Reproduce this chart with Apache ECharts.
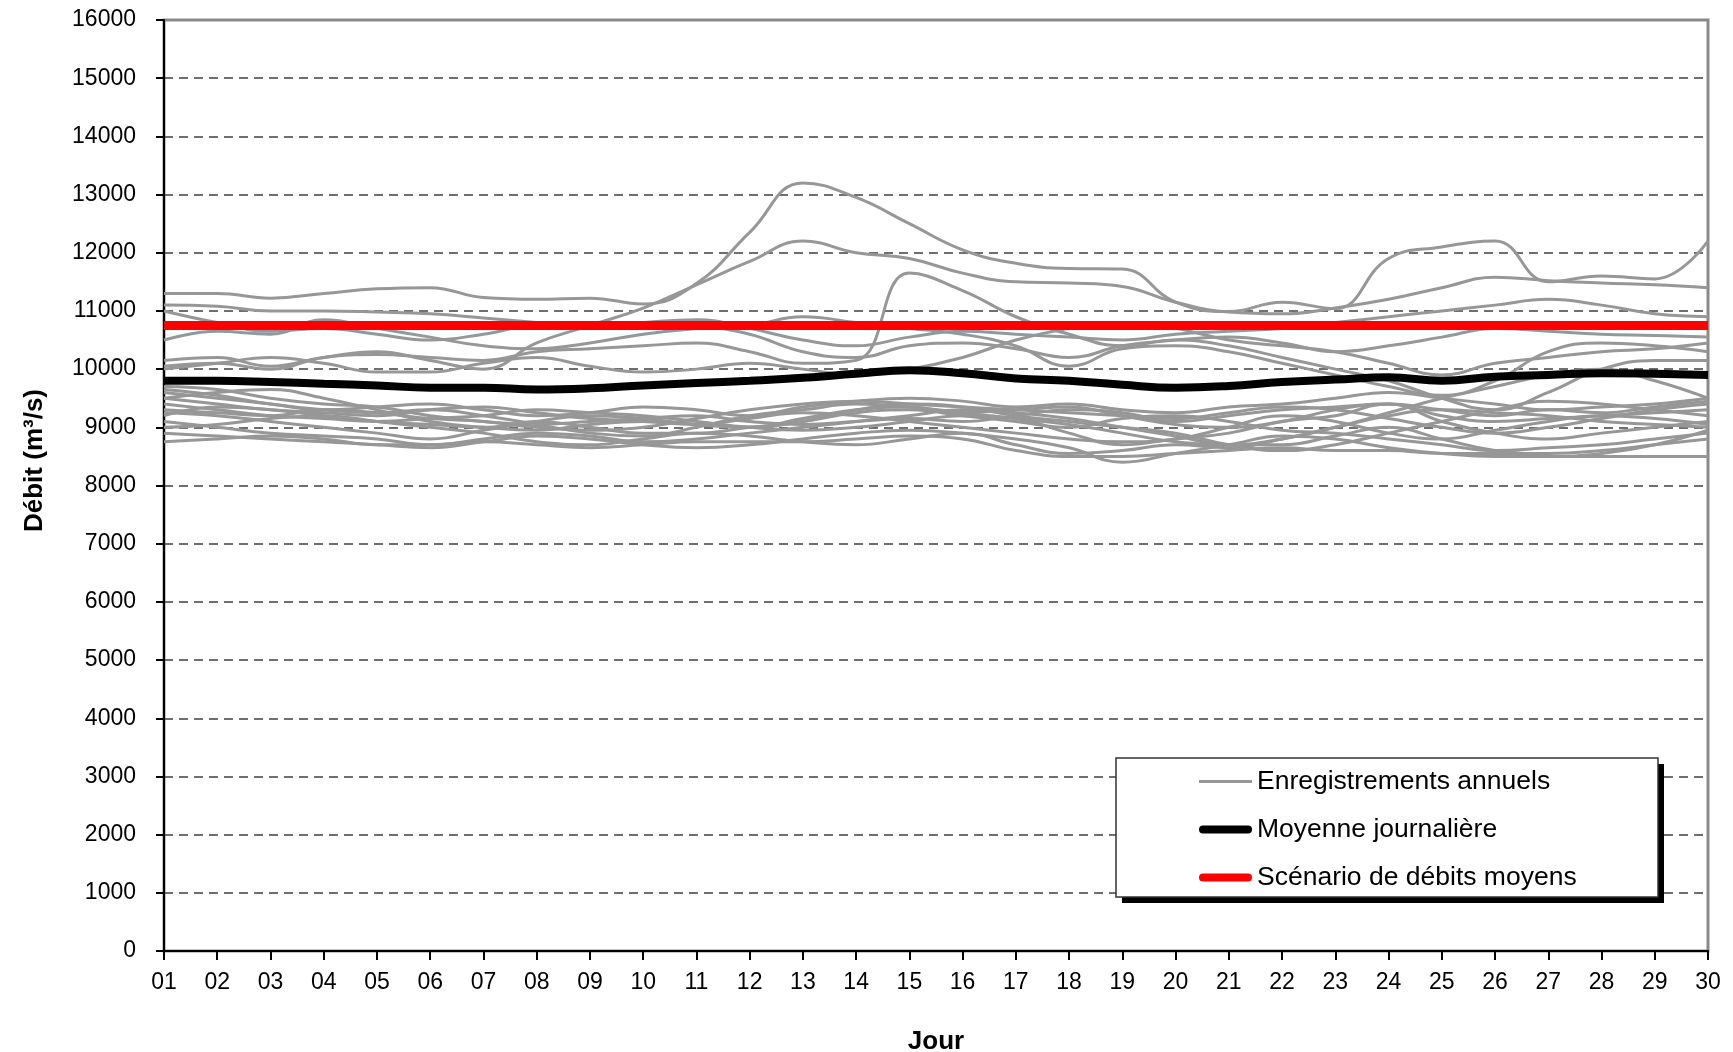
<!DOCTYPE html>
<html>
<head>
<meta charset="utf-8">
<script src="https://cdn.jsdelivr.net/npm/echarts@6/dist/echarts.min.js"></script>
<style>
  html, body { margin: 0; padding: 0; background: #fff; }
  #chart { width: 1733px; height: 1052px; }
</style>
</head>
<body>
<div id="chart"></div>
<script>
// Jours du mois
const days = ['01','02','03','04','05','06','07','08','09','10','11','12','13','14','15',
              '16','17','18','19','20','21','22','23','24','25','26','27','28','29','30'];

// Enregistrements annuels (débit journalier, m3/s)
const rec01 = [11300,11300,11220,11300,11380,11400,11230,11200,11220,11120,11470,12350,13200,12950,12500,12050,11820,11730,11720,11150,10990,11150,11040,11900,12100,12200,11500,11600,11550,12200];
const rec02 = [10150,10200,10050,10200,10300,10150,10000,10450,10750,11050,11450,11850,12200,12000,11900,11650,11500,11480,11420,11150,10980,10950,11050,11200,11400,11580,11520,11480,11450,11400];
const rec03 = [11100,11080,11000,11000,10980,10950,10880,10800,10720,10800,10850,10700,10500,10400,10550,10650,10600,10550,10500,10600,10650,10700,10800,10900,11000,11100,11200,11100,10950,10900];
const rec04 = [11000,10800,10650,10700,10600,10500,10600,10750,10700,10800,10750,10600,10300,10200,10400,10450,10350,10200,10400,10500,10550,10450,10300,10400,10550,10700,10650,10600,10580,10550];
const rec05 = [10500,10650,10600,10850,10700,10550,10400,10350,10450,10600,10700,10750,10900,10800,10700,10600,10400,10050,10350,10400,10300,10100,9900,9700,9550,9800,10300,10450,10400,10300];
const rec06 = [10050,10100,10000,10200,10250,10200,10150,10300,10350,10400,10450,10300,10100,10150,11650,11350,10900,10600,10400,10500,10400,10200,10000,9800,9500,9300,9600,10000,10150,10150];
const rec07 = [10000,10100,10200,10100,9950,9950,10100,10200,10050,9950,10000,10100,10000,9900,10000,10200,10500,10700,10800,10700,10500,10400,10300,10100,9900,10100,10200,10300,10350,10450];
const rec08 = [9700,9650,9500,9400,9350,9200,9100,9050,9100,9150,9200,9100,9050,9100,9150,9100,9200,9300,9250,9100,9200,9300,9350,9400,9300,9200,9300,9250,9350,9450];
const rec09 = [9600,9500,9400,9300,9350,9400,9300,9200,9250,9350,9300,9200,9350,9450,9500,9450,9350,9400,9300,9250,9350,9400,9500,9600,9500,9400,9300,9350,9400,9500];
const rec10 = [9500,9600,9650,9500,9300,9100,9000,8950,9050,9100,9050,9000,9150,9300,9350,9250,9300,9350,9200,9050,9000,9100,9300,9400,9200,9100,9150,9200,9250,9300];
const rec11 = [9400,9300,9200,9150,9100,9150,9200,9300,9250,9200,9100,9000,8950,9000,9100,9200,9150,8900,8700,8800,8900,9100,9200,9400,9100,8900,8800,8900,9000,9100];
const rec12 = [9250,9200,9100,9000,8900,8800,8950,9100,9200,9150,9050,9000,9100,9250,9300,9200,9100,9000,9150,9200,9100,8950,8900,8800,8700,8600,8650,8700,8800,8900];
const rec13 = [9200,9350,9300,9200,9100,9050,9000,9100,9000,8900,8900,9000,9100,9300,9400,9350,9200,9100,9000,8900,8700,8600,8700,8900,9100,9300,9450,9400,9300,9200];
const rec14 = [9100,9000,8900,8850,8800,8700,8800,8900,8850,8750,8800,8900,9000,9100,9200,9300,9250,9150,9000,8850,8700,8700,8850,9000,8800,8600,8550,8600,8700,8800];
const rec15 = [9000,9050,9150,9200,9100,9000,8900,8750,8700,8800,8900,8850,8750,8700,8800,8900,8700,8550,8600,8700,8650,8800,9000,9200,9300,9250,9200,9100,9050,9000];
const rec16 = [8750,8800,8850,8800,8700,8700,8750,8700,8650,8700,8750,8750,8750,8800,8850,8800,8600,8500,8500,8550,8600,8650,8600,8600,8550,8550,8500,8500,8500,8500];
const rec17 = [9300,9250,9200,9300,9250,9150,9100,9000,8950,9000,9150,9300,9400,9450,9400,9350,9300,9250,9200,9150,9250,9350,9300,9150,9000,8900,9000,9150,9300,9400];
const rec18 = [9650,9550,9400,9300,9250,9300,9200,9050,8900,8850,9000,9200,9300,9400,9350,9250,9150,9050,8900,8750,8700,8800,9000,9250,9500,9700,9900,10000,9800,9500];
const rec19 = [8900,8850,8800,8750,8700,8650,8750,8850,8800,8700,8650,8700,8800,8900,8950,8900,8800,8650,8400,8550,8700,8850,8800,8650,8550,8500,8500,8550,8700,8950];
const rec20 = [9500,9400,9300,9250,9200,9300,9350,9250,9150,9100,9050,9150,9250,9200,9100,9000,8900,8800,8750,8800,9000,9200,9100,8900,8800,8950,9100,9200,9150,9050];
const annualRecords = [rec01,rec02,rec03,rec04,rec05,rec06,rec07,rec08,rec09,rec10,
                       rec11,rec12,rec13,rec14,rec15,rec16,rec17,rec18,rec19,rec20];

// Moyenne journalière
const dailyMean = [9800,9800,9780,9750,9720,9680,9680,9650,9670,9720,9760,9800,9850,9920,9980,9930,9840,9800,9730,9680,9710,9780,9820,9860,9800,9870,9900,9930,9920,9900];

// Scénario de débits moyens
const meanScenario = [10750,10750,10750,10750,10750,10750,10750,10750,10750,10750,10750,10750,10750,10750,10750,
                      10750,10750,10750,10750,10750,10750,10750,10750,10750,10750,10750,10750,10750,10750,10750];

const yTicks = { min: 0, max: 16000, interval: 1000 };

const NAME_REC = 'Enregistrements annuels';
const NAME_MEAN = 'Moyenne journalière';
const NAME_SCEN = 'Scénario de débits moyens';
const FONT = '"Liberation Sans", Arial, sans-serif';

const series = annualRecords.map(values => ({
  name: NAME_REC,
  type: 'line',
  data: values,
  smooth: 0.45,
  symbol: 'none',
  color: '#979797',
  lineStyle: { color: '#979797', width: 3 },
  z: 2,
  silent: true
}));
series.push({
  name: NAME_MEAN, type: 'line', data: dailyMean, smooth: 0.45, symbol: 'none',
  color: '#000000', lineStyle: { color: '#000000', width: 8 }, z: 3, silent: true
});
series.push({
  name: NAME_SCEN, type: 'line', data: meanScenario, symbol: 'none',
  color: '#ff0000', lineStyle: { color: '#ff0000', width: 9 }, z: 4, silent: true
});

const thickIcon = 'path://M0,0 L0,0 M4,1 L49,1 A4,4 0 0 1 49,9 L4,9 A4,4 0 0 1 4,1 Z M53,10 L53,10';
const thinIcon = 'path://M0,0 L0,0 M0,3.5 L53,3.5 L53,6.5 L0,6.5 Z M53,10 L53,10';

const chart = echarts.init(document.getElementById('chart'), null, { renderer: 'canvas' });

chart.setOption({
  backgroundColor: '#ffffff',
  animation: false,
  grid: {
    left: 164, top: 20, right: 25, bottom: 101,
    outerBoundsMode: 'none',
    containLabel: false,
    show: true, borderColor: '#8a8a8a', borderWidth: 3, backgroundColor: 'transparent'
  },
  xAxis: {
    type: 'category',
    data: days,
    boundaryGap: false,
    name: 'Jour',
    nameLocation: 'middle',
    nameGap: 78,
    nameTextStyle: { fontFamily: FONT, fontSize: 26, fontWeight: 'bold', color: '#000' },
    axisLine: { lineStyle: { color: '#000', width: 2 } },
    axisTick: { show: true, inside: false, length: 9, alignWithLabel: true, interval: 0, lineStyle: { color: '#000', width: 2 } },
    axisLabel: { interval: 0, margin: 20, fontFamily: FONT, fontSize: 23, color: '#000' },
    splitLine: { show: false }
  },
  yAxis: {
    type: 'value',
    min: yTicks.min, max: yTicks.max, interval: yTicks.interval,
    name: 'Débit (m³/s)',
    nameLocation: 'middle',
    nameRotate: 90,
    nameGap: 116,
    nameTextStyle: { fontFamily: FONT, fontSize: 26, fontWeight: 'bold', color: '#000', padding: [0, 0, 0, 50] },
    axisLine: { show: true, lineStyle: { color: '#000', width: 2 } },
    axisTick: { show: true, inside: false, length: 8, lineStyle: { color: '#000', width: 2 } },
    axisLabel: { margin: 28, fontFamily: FONT, fontSize: 23, color: '#000', formatter: v => String(v) },
    splitLine: { show: true, showMinLine: false, showMaxLine: false, lineStyle: { color: '#404040', width: 1.5, type: [9, 6] } }
  },
  legend: {
    orient: 'vertical',
    left: 1199,
    top: 768,
    padding: 0,
    itemWidth: 53,
    itemHeight: 10,
    itemGap: 21,
    selectedMode: false,
    z: 20,
    textStyle: { fontFamily: FONT, fontSize: 26.5, color: '#000' },
    data: [
      { name: NAME_REC, icon: thinIcon },
      { name: NAME_MEAN, icon: thickIcon },
      { name: NAME_SCEN, icon: thickIcon }
    ]
  },
  graphic: [
    { type: 'rect', z: 10, shape: { x: 1122, y: 764, width: 542, height: 139 }, style: { fill: '#000' } },
    { type: 'rect', z: 11, shape: { x: 1116, y: 758, width: 542, height: 139 }, style: { fill: '#fff', stroke: '#333', lineWidth: 1.5 } }
  ],
  series: series
});
</script>
</body>
</html>
